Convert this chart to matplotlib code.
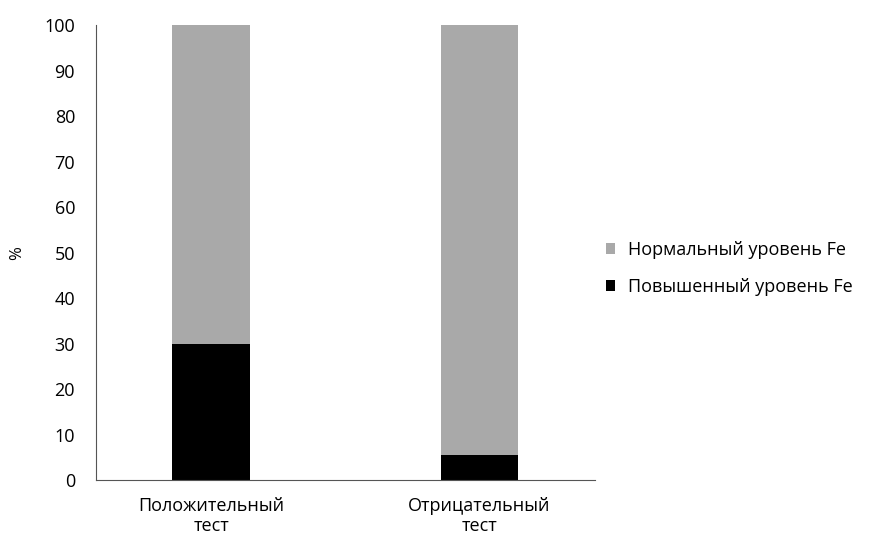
import matplotlib.pyplot as plt
import numpy as np

plt.rcParams['font.family'] = ['Open Sans', 'DejaVu Sans']

categories = ['Положительный\nтест', 'Отрицательный\nтест']
elevated = [30, 5.5]      # Повышенный уровень Fe
normal = [70, 94.5]       # Нормальный уровень Fe

fig = plt.figure(figsize=(8.72, 5.36), dpi=100)
ax = fig.add_axes([0.110, 0.1045, 0.572, 0.8485])

x = np.arange(len(categories))
b1 = ax.bar(x, elevated, width=0.29, color='black', label='Повышенный уровень Fe')
b2 = ax.bar(x, normal, width=0.29, bottom=elevated, color='#a9a9a9',
            label='Нормальный уровень Fe')

ax.set_xlim(-0.43, 1.43)
ax.set_ylim(0, 100)
ax.set_yticks(range(0, 101, 10))
ax.set_xticks(x)
ax.set_xticklabels(categories, fontsize=13, linespacing=1.2)
ax.tick_params(axis='y', length=0, labelsize=13, pad=15)
ax.tick_params(axis='x', length=0, pad=12)
ax.spines['top'].set_visible(False)
ax.spines['right'].set_visible(False)
ax.spines['left'].set_color('#555555')
ax.spines['bottom'].set_color('#555555')
ax.set_ylabel('%', fontsize=12, labelpad=14)

ax.legend([b2, b1], ['Нормальный уровень Fe', 'Повышенный уровень Fe'],
          loc='center left', bbox_to_anchor=(0.99, 0.465), frameon=False,
          fontsize=13, handlelength=0.5, handleheight=0.5, labelspacing=1.05,
          handletextpad=0.7)

fig.savefig('out.png', dpi=100)
